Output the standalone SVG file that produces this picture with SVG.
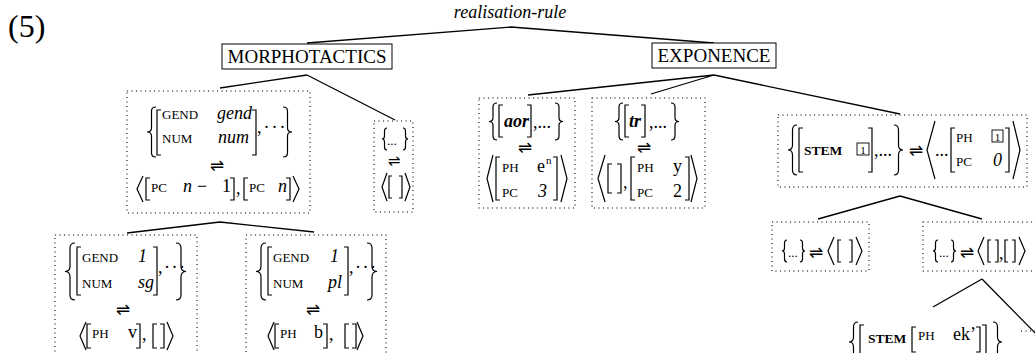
<svg xmlns="http://www.w3.org/2000/svg" width="1035" height="353" viewBox="0 0 1035 353">
<style>
text{font-family:"Liberation Serif","Times New Roman",serif;font-size:18px;fill:#000}
.sc{font-size:13px}
.scb{font-size:13.5px;font-weight:bold}
.it{font-style:italic}
.bi{font-style:italic;font-weight:bold}
.ar{font-family:"DejaVu Sans",sans-serif;font-size:17px;text-anchor:middle}
.lab{font-size:19px;text-anchor:middle}
.d{fill:none;stroke:#000;stroke-width:1.2}
.box{fill:none;stroke:#000;stroke-width:1.1;stroke-dasharray:1.1 3.4}
.tb{fill:#fff;stroke:#000;stroke-width:1}
.e{fill:none;stroke:#000;stroke-width:1.3}
</style>
<rect width="1035" height="353" fill="#fff"/>
<text x="8" y="37" style="font-size:32px">(5)</text>

<g id="connectors">
<path class="e" d="M511 27 L307 43 M511 27 L714 43"/>
<path class="e" d="M307 75 L220 88 M307 75 L395 120"/>
<path class="e" d="M220 222 L127 233 M220 222 L314 232"/>
<path class="e" d="M714 75 L528 95 M714 75 L651 94 M714 75 L900 114"/>
<path class="e" d="M900 196 L818 219 M900 196 L982 219"/>
<path class="e" d="M982 279 L933 307 M982 279 L1040 338"/>
</g>

<g id="root"><text x="510" y="18" class="it" text-anchor="middle">realisation-rule</text></g>

<g id="morphotactics">
<rect class="tb" x="222" y="44" width="170" height="25"/>
<text x="307" y="63" class="lab">MORPHOTACTICS</text>
</g>

<g id="exponence">
<rect class="tb" x="652" y="43" width="124" height="25"/>
<text x="714" y="62" class="lab">EXPONENCE</text>
</g>

<g id="n-gend-num">
<rect class="box" x="127" y="91" width="183" height="122"/>
<path class="d" d="M156 107 Q151.5 107 151.5 111 V128 Q151.5 132 147 132 Q151.5 132 151.5 136 V153 Q151.5 157 156 157"/>
<path class="d" d="M161 110 H157 V155 H161"/>
<text x="162" y="119" class="sc">GEND</text>
<text x="252" y="119" class="it" text-anchor="end">gend</text>
<text x="162" y="143" class="sc">NUM</text>
<text x="249" y="143" class="it" text-anchor="end">num</text>
<path class="d" d="M252 110 H256 V155 H252"/>
<text x="257" y="133" letter-spacing="2">,···</text>
<path class="d" d="M283 107 Q287.5 107 287.5 111 V128 Q287.5 132 292 132 Q287.5 132 287.5 136 V153 Q287.5 157 283 157"/>
<text x="217" y="171" class="ar">⇌</text>
<path class="d" d="M143 176 L137 189 L143 202"/>
<path class="d" d="M150 178 H146 V200 H150"/>
<text x="151" y="192" class="sc">PC</text>
<text x="183" y="192" class="it">n</text>
<text x="197" y="192">−</text>
<text x="222" y="192">1</text>
<path class="d" d="M230 178 H234 V200 H230"/>
<text x="236" y="194">,</text>
<path class="d" d="M248 178 H244 V200 H248"/>
<text x="249" y="192" class="sc">PC</text>
<text x="278" y="192" class="it">n</text>
<path class="d" d="M286 178 H290 V200 H286"/>
<path class="d" d="M293 176 L299 189 L293 202"/>
</g>

<g id="n-empty-left">
<rect class="box" x="374" y="121" width="39" height="91"/>
<path class="d" d="M387 128 Q384.5 128 384.5 131 V136 Q384.5 139 382 139 Q384.5 139 384.5 142 V147 Q384.5 150 387 150"/>
<text x="387" y="145" style="font-size:13px">...</text>
<path class="d" d="M403 128 Q405.5 128 405.5 131 V136 Q405.5 139 408 139 Q405.5 139 405.5 142 V147 Q405.5 150 403 150"/>
<text x="394" y="166" class="ar" style="font-size:15px">⇌</text>
<path class="d" d="M387 173 L382 187 L387 201"/>
<path class="d" d="M392 176 H389 V198 H392"/>
<path class="d" d="M399 176 H402 V198 H399"/>
<path class="d" d="M405 173 L410 187 L405 201"/>
</g>

<g id="n-sg">
<rect class="box" x="55" y="235" width="142" height="130"/>
<path class="d" d="M75 243 Q70 243 70 248 V266 Q70 271.5 65 271.5 Q70 271.5 70 277 V295 Q70 300 75 300"/>
<path class="d" d="M81 247 H77 V295 H81"/>
<text x="82" y="262" class="sc">GEND</text>
<text x="138" y="262" class="it">1</text>
<text x="82" y="288" class="sc">NUM</text>
<text x="138" y="288" class="it">sg</text>
<path class="d" d="M153 247 H157 V295 H153"/>
<text x="158" y="273" letter-spacing="1.5">,···</text>
<path class="d" d="M176 243 Q181 243 181 248 V266 Q181 271.5 186 271.5 Q181 271.5 181 277 V295 Q181 300 176 300"/>
<text x="123" y="315" class="ar">⇌</text>
<path class="d" d="M86 322 L80 336 L86 350"/>
<path class="d" d="M91 324 H87 V348 H91"/>
<text x="92" y="338" class="sc">PH</text>
<text x="128" y="338">v</text>
<path class="d" d="M136 324 H140 V348 H136"/>
<text x="142" y="340">,</text>
<path class="d" d="M157 324 H153 V348 H157"/>
<path class="d" d="M160 324 H164 V348 H160"/>
<path class="d" d="M167 322 L173 336 L167 350"/>
</g>

<g id="n-pl">
<rect class="box" x="246" y="235" width="140" height="130"/>
<path class="d" d="M266 243 Q261 243 261 248 V266 Q261 271.5 256 271.5 Q261 271.5 261 277 V295 Q261 300 266 300"/>
<path class="d" d="M272 247 H268 V295 H272"/>
<text x="273" y="262" class="sc">GEND</text>
<text x="330" y="262" class="it">1</text>
<text x="273" y="288" class="sc">NUM</text>
<text x="328" y="288" class="it">pl</text>
<path class="d" d="M344 247 H348 V295 H344"/>
<text x="349" y="273" letter-spacing="1.5">,···</text>
<path class="d" d="M367 243 Q372 243 372 248 V266 Q372 271.5 377 271.5 Q372 271.5 372 277 V295 Q372 300 367 300"/>
<text x="313" y="315" class="ar">⇌</text>
<path class="d" d="M274 322 L268 336 L274 350"/>
<path class="d" d="M279 324 H275 V348 H279"/>
<text x="280" y="338" class="sc">PH</text>
<text x="314" y="338">b</text>
<path class="d" d="M323 324 H327 V348 H323"/>
<text x="329" y="340">,</text>
<path class="d" d="M349 324 H345 V348 H349"/>
<path class="d" d="M352 324 H356 V348 H352"/>
<path class="d" d="M357 322 L363 336 L357 350"/>
</g>

<g id="n-aor">
<rect class="box" x="479" y="98" width="96" height="110"/>
<path class="d" d="M497 103 Q493 103 493 107 V117.5 Q493 121.5 489 121.5 Q493 121.5 493 125.5 V136 Q493 140 497 140"/>
<path class="d" d="M503 105 H499 V137 H503"/>
<text x="504" y="127" class="bi">aor</text>
<path class="d" d="M527 105 H531 V137 H527"/>
<text x="533" y="128">,...</text>
<path class="d" d="M555 103 Q559 103 559 107 V117.5 Q559 121.5 563 121.5 Q559 121.5 559 125.5 V136 Q559 140 555 140"/>
<text x="525" y="153" class="ar">⇌</text>
<path class="d" d="M493 155 L487 178.5 L493 202"/>
<path class="d" d="M500 157 H496 V200 H500"/>
<text x="502" y="172" class="sc">PH</text>
<text x="537" y="172">e</text>
<text x="546" y="164" style="font-size:11px">n</text>
<text x="502" y="197" class="sc">PC</text>
<text x="538" y="197" class="it">3</text>
<path class="d" d="M553 157 H557 V200 H553"/>
<path class="d" d="M561 155 L567 178.5 L561 202"/>
</g>

<g id="n-tr">
<rect class="box" x="592" y="98" width="113" height="110"/>
<path class="d" d="M623 103 Q619 103 619 107 V117.5 Q619 121.5 615 121.5 Q619 121.5 619 125.5 V136 Q619 140 623 140"/>
<path class="d" d="M629 105 H625 V137 H629"/>
<text x="629" y="127" class="bi">tr</text>
<path class="d" d="M641 105 H645 V137 H641"/>
<text x="649" y="128">,...</text>
<path class="d" d="M671 103 Q675 103 675 107 V117.5 Q675 121.5 679 121.5 Q675 121.5 675 125.5 V136 Q675 140 671 140"/>
<text x="644" y="153" class="ar">⇌</text>
<path class="d" d="M605 155 L598 178.5 L605 202"/>
<path class="d" d="M612 164 H608 V193 H612"/>
<path class="d" d="M617 164 H621 V193 H617"/>
<text x="623" y="188">,</text>
<path class="d" d="M635 157 H631 V200 H635"/>
<text x="637" y="172" class="sc">PH</text>
<text x="673" y="172">y</text>
<text x="637" y="197" class="sc">PC</text>
<text x="673" y="197">2</text>
<path class="d" d="M685 157 H689 V200 H685"/>
<path class="d" d="M691 155 L697 178.5 L691 202"/>
</g>

<g id="n-stem">
<rect class="box" x="778" y="115" width="249" height="72"/>
<path class="d" d="M797 125 Q792.5 125 792.5 130 V145 Q792.5 150 788 150 Q792.5 150 792.5 155 V170 Q792.5 175 797 175"/>
<path class="d" d="M803 128 H799 V172 H803"/>
<text x="804" y="155" class="scb">STEM</text>
<rect x="857" y="143" width="12" height="12" fill="none" stroke="#000" stroke-width="0.9"/>
<text x="863" y="153.5" text-anchor="middle" style="font-size:11px">1</text>
<path class="d" d="M868 128 H872 V172 H868"/>
<text x="874" y="156">,...</text>
<path class="d" d="M894 125 Q898.5 125 898.5 130 V145 Q898.5 150 903 150 Q898.5 150 898.5 155 V170 Q898.5 175 894 175"/>
<text x="916" y="156" class="ar">⇌</text>
<path class="d" d="M935 121 L927 150 L935 179"/>
<text x="935" y="156">...</text>
<path class="d" d="M955 128 H951 V172 H955"/>
<text x="956" y="142" class="sc">PH</text>
<rect x="992" y="130" width="11" height="12" fill="none" stroke="#000" stroke-width="0.9"/>
<text x="997.5" y="140.5" text-anchor="middle" style="font-size:11px">1</text>
<text x="956" y="166" class="sc">PC</text>
<text x="993" y="166" class="it">0</text>
<path class="d" d="M1005 128 H1009 V172 H1005"/>
<path class="d" d="M1013 121 L1020 150 L1013 179"/>
</g>

<g id="n-empty-a">
<rect class="box" x="772" y="222" width="97" height="49"/>
<path class="d" d="M787 240 Q784.5 240 784.5 243 V248 Q784.5 251 782 251 Q784.5 251 784.5 254 V259 Q784.5 262 787 262"/>
<text x="788" y="257" style="font-size:13px">...</text>
<path class="d" d="M800 240 Q802.5 240 802.5 243 V248 Q802.5 251 805 251 Q802.5 251 802.5 254 V259 Q802.5 262 800 262"/>
<text x="816" y="258" class="ar">⇌</text>
<path class="d" d="M834 237 L828 251 L834 265"/>
<path class="d" d="M841 240 H838 V262 H841"/>
<path class="d" d="M849 240 H852 V262 H849"/>
<path class="d" d="M856 237 L862 251 L856 265"/>
</g>

<g id="n-empty-b">
<rect class="box" x="923" y="222" width="120" height="49"/>
<path class="d" d="M938 240 Q935.5 240 935.5 243 V248 Q935.5 251 933 251 Q935.5 251 935.5 254 V259 Q935.5 262 938 262"/>
<text x="939" y="257" style="font-size:13px">...</text>
<path class="d" d="M951 240 Q953.5 240 953.5 243 V248 Q953.5 251 956 251 Q953.5 251 953.5 254 V259 Q953.5 262 951 262"/>
<text x="967" y="258" class="ar">⇌</text>
<path class="d" d="M984 237 L978 251 L984 265"/>
<path class="d" d="M991 240 H988 V262 H991"/>
<path class="d" d="M995 240 H998 V262 H995"/>
<text x="999" y="259">,</text>
<path class="d" d="M1008 240 H1005 V262 H1008"/>
<path class="d" d="M1012 240 H1015 V262 H1012"/>
<path class="d" d="M1019 237 L1025 251 L1019 265"/>
</g>

<g id="n-stem-ek">
<path class="d" d="M858 322 Q853.5 322 853.5 327 V337 Q853.5 342 849 342 Q853.5 342 853.5 347 V357 Q853.5 362 858 362"/>
<path class="d" d="M864 325 H860 V359 H864"/>
<text x="868" y="343" class="scb">STEM</text>
<path class="d" d="M916 327 H912 V352 H916"/>
<text x="918" y="340" class="sc">PH</text>
<text x="953" y="340">ek’</text>
<path class="d" d="M976 327 H980 V352 H976"/>
<path class="d" d="M982 325 H986 V359 H982"/>
<path class="d" d="M993 322 Q997.5 322 997.5 327 V337 Q997.5 342 1002 342 Q997.5 342 997.5 347 V357 Q997.5 362 993 362"/>
</g>

<g id="n-right-cut">
<path class="box" d="M1021 331 H1040"/>
</g>
</svg>
